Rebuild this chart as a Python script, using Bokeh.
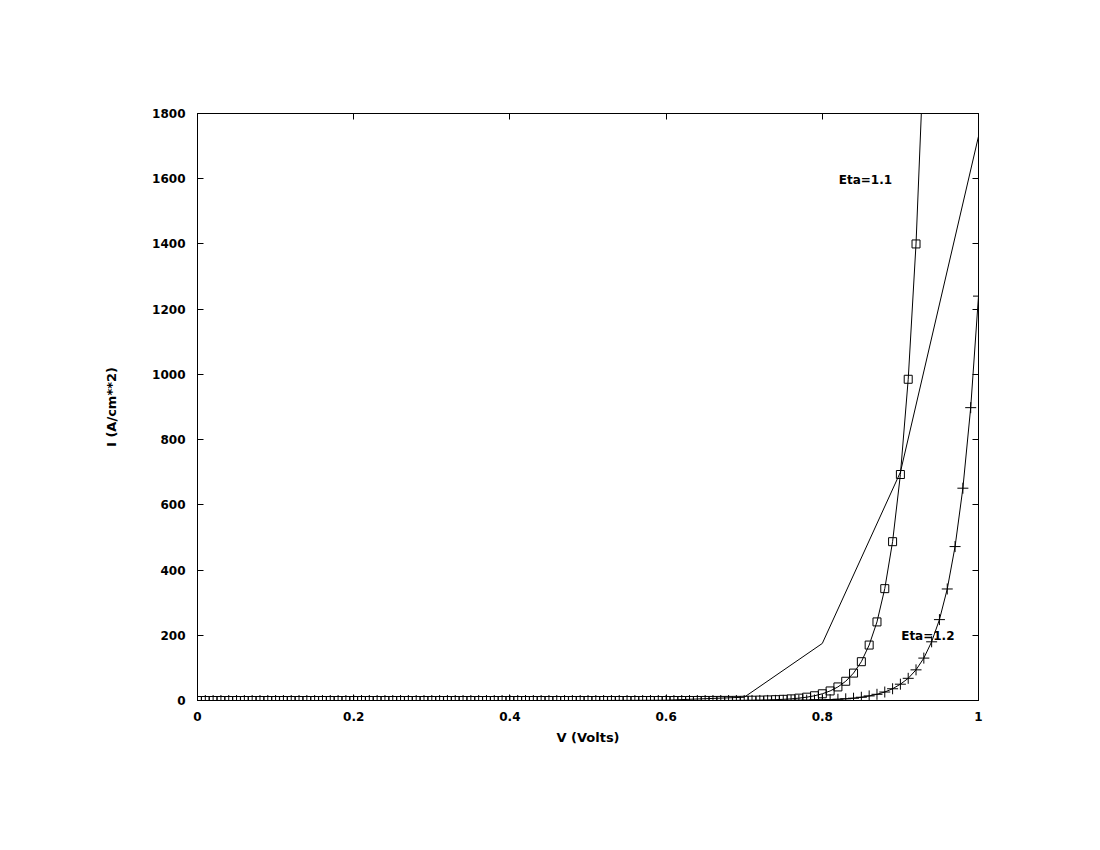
from bokeh.plotting import figure
from bokeh.models import Range1d, LinearAxis, FixedTicker, Label
from bokeh.embed import file_html
from bokeh.resources import INLINE

# ---- data ----
v_eta11 = [0.00, 0.01, 0.02, 0.03, 0.04, 0.05, 0.06, 0.07, 0.08, 0.09,
           0.10, 0.11, 0.12, 0.13, 0.14, 0.15, 0.16, 0.17, 0.18, 0.19,
           0.20, 0.21, 0.22, 0.23, 0.24, 0.25, 0.26, 0.27, 0.28, 0.29,
           0.30, 0.31, 0.32, 0.33, 0.34, 0.35, 0.36, 0.37, 0.38, 0.39,
           0.40, 0.41, 0.42, 0.43, 0.44, 0.45, 0.46, 0.47, 0.48, 0.49,
           0.50, 0.51, 0.52, 0.53, 0.54, 0.55, 0.56, 0.57, 0.58, 0.59,
           0.60, 0.61, 0.62, 0.63, 0.64, 0.65, 0.66, 0.67, 0.68, 0.69,
           0.70, 0.71, 0.72, 0.73, 0.74, 0.75, 0.76, 0.77, 0.78, 0.79,
           0.80, 0.81, 0.82, 0.83, 0.84, 0.85, 0.86, 0.87, 0.88, 0.89,
           0.90, 0.91, 0.92, 0.93]
i_eta11 = [0, 0, 0, 0, 0, 0, 0, 0, 0, 0,
           0, 0, 0, 0, 0, 0, 0, 0, 0, 0,
           0, 0, 0, 0, 0, 0, 0, 0, 0, 0,
           0, 0, 0, 0, 0, 0, 0, 0, 0, 0,
           0, 0, 0, 0, 0, 0, 0, 0, 0, 0,
           0, 0, 0, 0, 0, 0, 0, 0, 0, 0,
           0, 0, 0, 0.03, 0.05, 0.1, 0.15, 0.2, 0.3, 0.4,
           0.6, 0.9, 1.2, 1.8, 2.5, 3.6, 5.0, 7.2, 10.2, 14.5,
           20.6, 29.3, 41.6, 59, 84, 119, 170, 241, 343, 487,
           693, 985, 1400, 1990]

v_eta12 = [0.00, 0.01, 0.02, 0.03, 0.04, 0.05, 0.06, 0.07, 0.08, 0.09,
           0.10, 0.11, 0.12, 0.13, 0.14, 0.15, 0.16, 0.17, 0.18, 0.19,
           0.20, 0.21, 0.22, 0.23, 0.24, 0.25, 0.26, 0.27, 0.28, 0.29,
           0.30, 0.31, 0.32, 0.33, 0.34, 0.35, 0.36, 0.37, 0.38, 0.39,
           0.40, 0.41, 0.42, 0.43, 0.44, 0.45, 0.46, 0.47, 0.48, 0.49,
           0.50, 0.51, 0.52, 0.53, 0.54, 0.55, 0.56, 0.57, 0.58, 0.59,
           0.60, 0.61, 0.62, 0.63, 0.64, 0.65, 0.66, 0.67, 0.68, 0.69,
           0.70, 0.71, 0.72, 0.73, 0.74, 0.75, 0.76, 0.77, 0.78, 0.79,
           0.80, 0.81, 0.82, 0.83, 0.84, 0.85, 0.86, 0.87, 0.88, 0.89,
           0.90, 0.91, 0.92, 0.93, 0.94, 0.95, 0.96, 0.97, 0.98, 0.99,
           1.00]
i_eta12 = [0, 0, 0, 0, 0, 0, 0, 0, 0, 0,
           0, 0, 0, 0, 0, 0, 0, 0, 0, 0,
           0, 0, 0, 0, 0, 0, 0, 0, 0, 0,
           0, 0, 0, 0, 0, 0, 0, 0, 0, 0,
           0, 0, 0, 0, 0, 0, 0, 0, 0, 0,
           0, 0, 0, 0, 0, 0, 0, 0, 0, 0,
           0, 0, 0, 0, 0, 0, 0, 0, 0, 0,
           0.05, 0.1, 0.15, 0.2, 0.3, 0.4, 0.5, 0.8, 1.0, 1.4,
           2.0, 2.7, 3.8, 5.2, 7, 10, 14, 19, 26, 36,
           50, 68, 94, 130, 180, 248, 342, 472, 651, 898,
           1240]

v_coarse = [0.0, 0.1, 0.2, 0.3, 0.4, 0.5, 0.6, 0.7, 0.8, 0.9, 1.0]
i_coarse = [0, 0, 0, 0, 0, 0, 1, 10, 175, 700, 1730]

x_ticks = [0, 0.2, 0.4, 0.6, 0.8, 1.0]
x_tick_labels = {0: "0", 0.2: "0.2", 0.4: "0.4", 0.6: "0.6", 0.8: "0.8", 1.0: "1"}
y_ticks = [0, 200, 400, 600, 800, 1000, 1200, 1400, 1600, 1800]

label_11 = ("Eta=1.1", 0.821, 1595)
label_12 = ("Eta=1.2", 0.901, 199)

FONT = "DejaVu Sans"

p = figure(width=1090, height=842, output_backend="svg", toolbar_location=None,
           x_range=Range1d(0, 1), y_range=Range1d(0, 1800),
           min_border_left=197, min_border_right=112,
           min_border_top=113, min_border_bottom=142)
p.background_fill_color = "white"
p.border_fill_color = "white"
p.outline_line_color = "black"
p.outline_line_width = 1
p.grid.visible = False

# data
p.line(v_coarse, i_coarse, line_color="black", line_width=1)
p.line(v_eta11, i_eta11, line_color="black", line_width=1)
p.scatter(v_eta11, i_eta11, marker="square", size=8, line_color="black",
          fill_color="white", fill_alpha=0.0, line_width=1)
p.line(v_eta12, i_eta12, line_color="black", line_width=1)
p.scatter(v_eta12, i_eta12, marker="cross", size=11, line_color="black", line_width=1)

for txt, xx, yy in (label_11, label_12):
    p.add_layout(Label(x=xx, y=yy, text=txt, text_font=FONT, text_font_size="12px",
                       text_font_style="bold",
                       text_color="black", text_align="left", text_baseline="middle"))

def style(ax, show_labels):
    ax.major_tick_in = 6
    ax.major_tick_out = 0
    ax.minor_tick_in = 0
    ax.minor_tick_out = 0
    ax.axis_line_color = "black"
    ax.major_tick_line_color = "black"
    ax.major_label_text_font = FONT
    ax.major_label_text_font_size = "12px"
    ax.major_label_text_font_style = "bold"
    ax.major_label_text_color = "black"
    if not show_labels:
        ax.major_label_text_font_size = "0px"
        ax.major_label_text_alpha = 0

xa = p.xaxis[0]
xa.ticker = FixedTicker(ticks=x_ticks)
xa.major_label_overrides = x_tick_labels
style(xa, True)
xa.major_label_standoff = 11
xa.axis_label = "V (Volts)"
xa.axis_label_text_font = FONT
xa.axis_label_text_font_size = "13px"
xa.axis_label_text_font_style = "bold"
xa.axis_label_text_color = "black"
xa.axis_label_standoff = 6

ya = p.yaxis[0]
ya.ticker = FixedTicker(ticks=y_ticks)
style(ya, True)
ya.major_label_standoff = 12
ya.axis_label = "I (A/cm**2)"
ya.axis_label_text_font = FONT
ya.axis_label_text_font_size = "13px"
ya.axis_label_text_font_style = "bold"
ya.axis_label_text_color = "black"
ya.axis_label_standoff = 30

top = LinearAxis(ticker=FixedTicker(ticks=x_ticks))
style(top, False)
p.add_layout(top, "above")
right = LinearAxis(ticker=FixedTicker(ticks=y_ticks))
style(right, False)
p.add_layout(right, "right")

open("out.html", "w").write(file_html(p, INLINE))
